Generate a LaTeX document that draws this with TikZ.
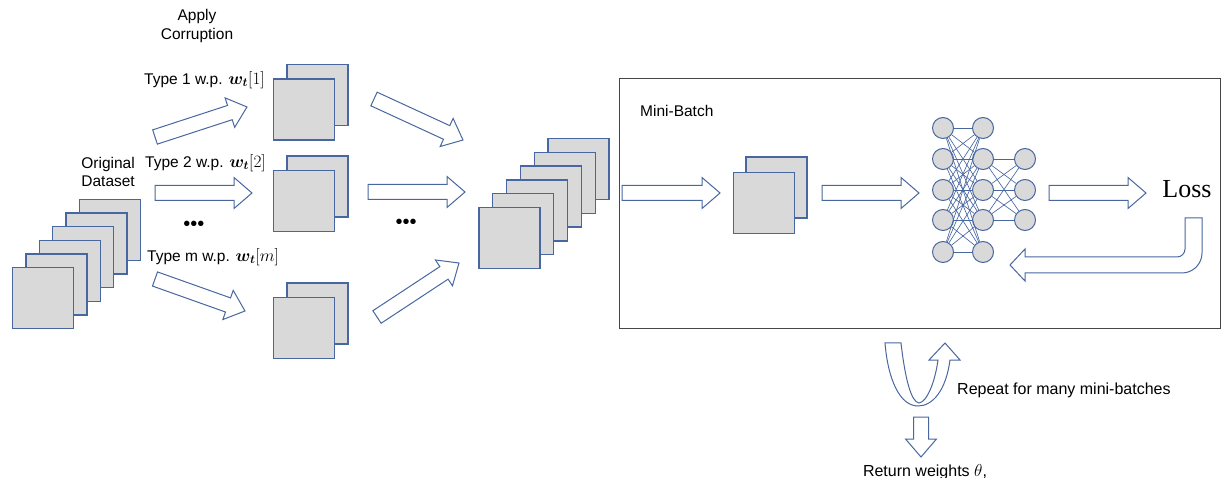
\documentclass[tikz,border=0pt]{standalone}
\usepackage{amsmath}
\usepackage{bm}
\usepackage{fontspec}
\setmainfont{Liberation Sans}
\newfontfamily\lossfont{Liberation Serif}
\usetikzlibrary{calc}

\definecolor{edgeblue}{RGB}{72,103,160}
\definecolor{cardgray}{RGB}{217,217,217}
\definecolor{framegray}{RGB}{70,70,70}

\tikzset{
  card/.style={draw=edgeblue, fill=cardgray, line width=1.3pt,
    minimum width=61pt, minimum height=61pt, inner sep=0pt},
  arrowline/.style={draw=edgeblue, fill=white, line width=1pt, line join=miter},
  neuron/.style={circle, draw=edgeblue, fill=cardgray, line width=1pt,
    minimum size=21pt, inner sep=0pt},
  synapse/.style={draw=edgeblue, line width=0.65pt},
  txt/.style={font=\fontsize{15.5}{18.5}\selectfont, inner sep=0pt},
}

% weight symbol used in the corruption labels
\newcommand{\wsym}[1]{{\fontsize{18.5}{19}\selectfont$\bm{w}_{\bm{t}}[#1]$}}

% block arrow between two named points: shaft half width, head half width, head length
\newcommand{\baw}{7.5pt}
\newcommand{\bahw}{15.5pt}
\newcommand{\bahl}{18pt}
\newcommand{\blockarrow}[2]{%
  \path let \p1=(#1), \p2=(#2) in
    \pgfextra{%
      \pgfmathsetmacro\baang{atan2(\y2-\y1,\x2-\x1)}%
      \pgfmathsetmacro\balen{veclen(\x2-\x1,\y2-\y1)}%
      \xdef\baangle{\baang}\xdef\balength{\balen}};
  \draw[arrowline, shift={(#1)}, rotate=\baangle]
    (0pt,\baw) -- ({\balength pt-\bahl},\baw) -- ({\balength pt-\bahl},\bahw)
    -- ({\balength pt},0pt) -- ({\balength pt-\bahl},-\bahw)
    -- ({\balength pt-\bahl},-\baw) -- (0pt,-\baw) -- cycle;
}

\begin{document}
\begin{tikzpicture}[x=1pt,y=-1pt]
\useasboundingbox (0,0) rectangle (1221,478);

% original dataset stack
\foreach \i in {5,4,...,0}
  \node[card] (orig\i) at ({43+13.4*\i},{298-13.6*\i}) {};
\node[txt, align=right, anchor=east] (origlbl) at (135,172) {Original\\Dataset};

\node[txt, align=center] (apply) at (197,26) {Apply\\Corruption};

% corrupted copies
\node[card] (t1b) at (317.5,95) {};
\node[card] (t1f) at (304,109.5) {};
\node[card] (t2b) at (317.5,186.5) {};
\node[card] (t2f) at (304,201) {};
\node[card] (tmb) at (317.5,313.5) {};
\node[card] (tmf) at (304,328) {};

\node[txt, anchor=west] (lbl1) at (144,80) {Type 1 w.p. \wsym{1}};
\node[txt, anchor=west] (lbl2) at (145,163) {Type 2 w.p. \wsym{2}};
\node[txt, anchor=west] (lblm) at (147,257) {Type m w.p. \wsym{m}};
\node[inner sep=0pt, font=\fontsize{20}{20}\selectfont] (dotsa) at (194,226) {•••};
\node[inner sep=0pt, font=\fontsize{20}{20}\selectfont] (dotsb) at (406,224) {•••};

% arrow end points
\coordinate (a1s) at (155,137); \coordinate (a1e) at (247,107);
\coordinate (a2s) at (155,193); \coordinate (a2e) at (252,193);
\coordinate (a3s) at (155,279); \coordinate (a3e) at (245,311);
\coordinate (a4s) at (374,99);  \coordinate (a4e) at (463,140);
\coordinate (a5s) at (368,192); \coordinate (a5e) at (465,192);
\coordinate (a6s) at (377,317); \coordinate (a6e) at (459,263);
\coordinate (a7s) at (622,193); \coordinate (a7e) at (720,193);
\coordinate (a8s) at (822,193); \coordinate (a8e) at (919,193);
\coordinate (a9s) at (1049,193); \coordinate (a9e) at (1146,193);
\coordinate (dns) at (921,417); \coordinate (dne) at (921,457);

\blockarrow{a1s}{a1e}
\blockarrow{a2s}{a2e}
\blockarrow{a3s}{a3e}
\blockarrow{a4s}{a4e}
\blockarrow{a5s}{a5e}
\blockarrow{a6s}{a6e}

% merged dataset
\foreach \i in {5,4,...,0}
  \node[card] (mix\i) at ({509.5+13.8*\i},{238-13.8*\i}) {};

% training frame
\node[draw=framegray, line width=1.2pt, minimum width=601pt, minimum height=250pt,
  inner sep=0pt, anchor=north west] (frame) at (619,78) {};
\node[txt, anchor=west] (mblbl) at (640,111) {Mini-Batch};

\node[card] (mbb) at (776.5,187.5) {};
\node[card] (mbf) at (764,203) {};

\blockarrow{a7s}{a7e}
\blockarrow{a8s}{a8e}
\blockarrow{a9s}{a9e}

% network
\foreach \r/\y in {1/128,2/159,3/190,4/220,5/252} {
  \node[neuron] (n1\r) at (943,\y) {};
  \node[neuron] (n2\r) at (983,\y) {};
}
\foreach \r/\y in {1/159,2/190,3/220}
  \node[neuron] (n3\r) at (1025,\y) {};
\foreach \a in {1,...,5}
  \foreach \b in {1,...,5}
    \draw[synapse] (n1\a) -- (n2\b);
\foreach \a in {2,3,4}
  \foreach \b in {1,2,3}
    \draw[synapse] (n2\a) -- (n3\b);

\node[font=\lossfont\fontsize{26}{26}\selectfont, inner sep=0pt] (loss) at (1187,189) {Loss};

% bent feedback arrow from the loss back to the network
\draw[arrowline] (1185,218) -- (1202,218) -- (1202,253)
  .. controls (1202,264) and (1193,273) .. (1182,273)
  -- (1025,273) -- (1025,281) -- (1010,265) -- (1025,249) -- (1025,257)
  -- (1177,257) .. controls (1181.4,257) and (1185,253.4) .. (1185,249) -- cycle;

% repeat loop arrow
\draw[arrowline] (885,343) -- (901,343)
  .. controls (905,378) and (911,402) .. (919,403)
  .. controls (927,402) and (935,382) .. (938,360)
  -- (929,360) -- (945,343) -- (960,360) -- (950,360)
  .. controls (946,390) and (933,406) .. (918,406)
  .. controls (900,406) and (888,380) .. (885,343) -- cycle;
\node[txt, anchor=west, font=\fontsize{16}{18}\selectfont] (replbl) at (957,390) {Repeat for many mini-batches};

\blockarrow{dns}{dne}
\node[txt, font=\fontsize{16}{18}\selectfont] (retlbl) at (925,472) {Return weights $\theta$,};
\end{tikzpicture}
\end{document}
